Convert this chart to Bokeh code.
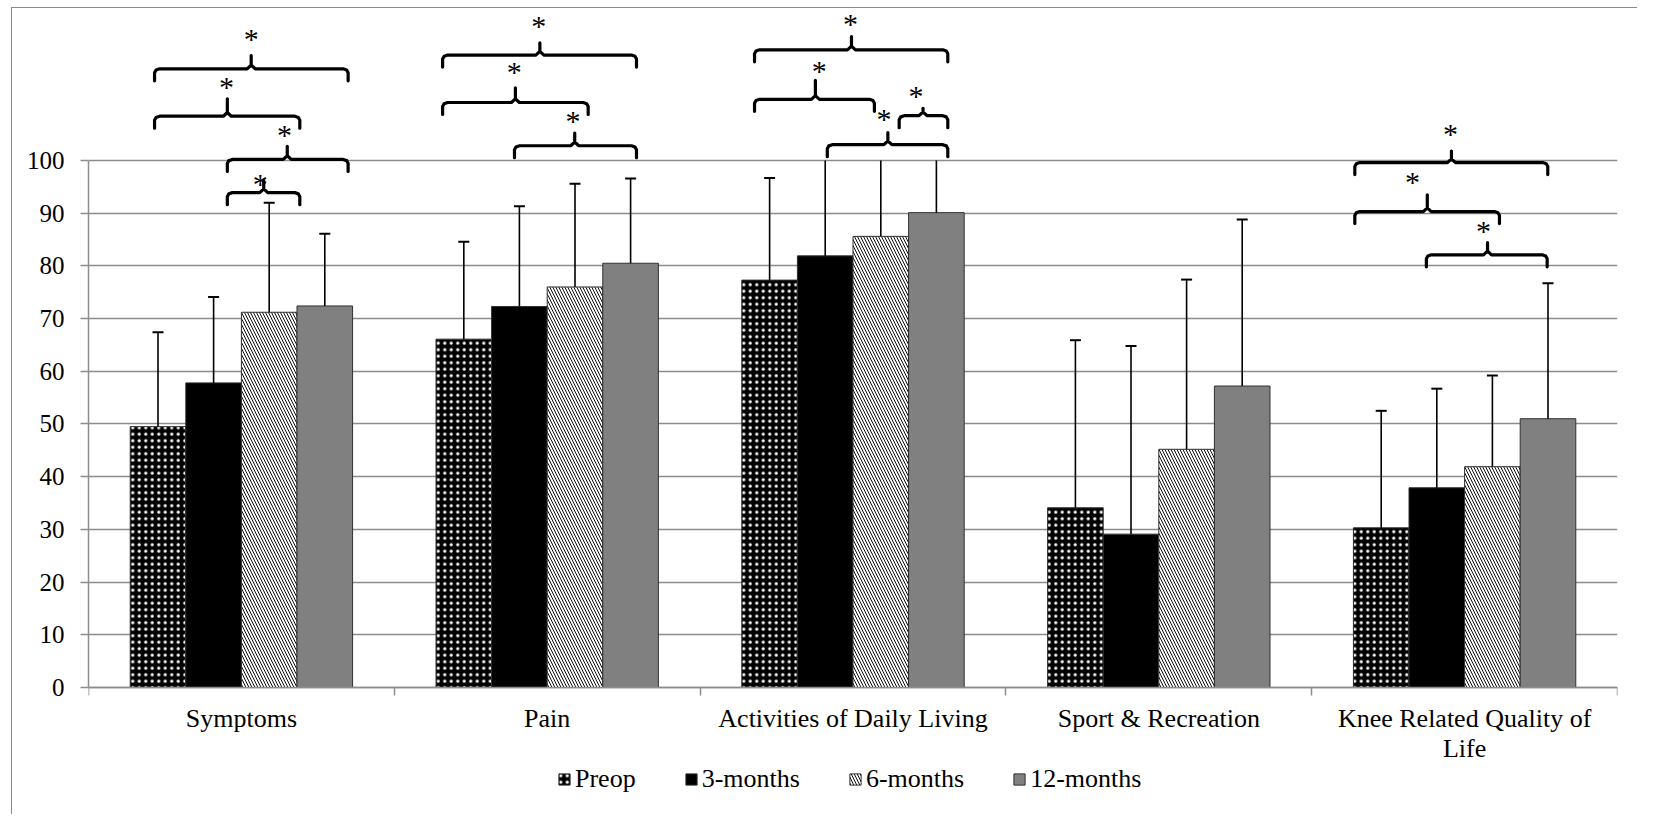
from bokeh.plotting import figure
from bokeh.models import FixedTicker, Legend, LegendItem, Range1d
from bokeh.embed import file_html
from bokeh.resources import INLINE
from bokeh.core.properties import value

# ---------------- data ----------------
categories = ["Symptoms", "Pain", "Activities of Daily Living",
              "Sport & Recreation", "Knee Related Quality of\nLife"]
series = ["Preop", "3-months", "6-months", "12-months"]

preop = [49.5, 66.1, 77.3, 34.1, 30.3]
m3 = [57.8, 72.3, 81.9, 29.1, 37.9]
m6 = [71.2, 76.0, 85.6, 45.2, 41.9]
m12 = [72.4, 80.5, 90.1, 57.2, 51.0]

# upper ends of the error bars (100 = runs past the axis maximum)
preop_hi = [67.4, 84.6, 96.7, 65.9, 52.5]
m3_hi = [74.1, 91.3, 100.0, 64.8, 56.7]
m6_hi = [92.0, 95.6, 100.0, 77.4, 59.2]
m12_hi = [86.1, 96.6, 100.0, 88.8, 76.7]

y_ticks = [0, 10, 20, 30, 40, 50, 60, 70, 80, 90, 100]

# significance brackets: left end, right end, tip, level, tip height
br_x0 = [-0.284, -0.284, -0.046, -0.046, 0.658, 0.658, 0.893,
         1.678, 1.678, 2.151, 1.916, 3.641, 3.641, 3.875]
br_x1 = [0.349, 0.191, 0.349, 0.191, 1.292, 1.134, 1.292,
         2.310, 2.070, 2.310, 2.310, 4.272, 4.114, 4.270]
br_xm = [0.032, -0.046, 0.150, 0.073, 0.976, 0.896, 1.090,
         1.995, 1.877, 2.229, 2.114, 3.957, 3.878, 4.075]
br_y = [117.4, 108.4, 100.2, 93.9, 120.0, 111.0, 102.8,
        121.0, 111.6, 108.5, 103.0, 99.6, 90.3, 82.1]
br_tip = [2.5, 3.3, 2.5, 2.3, 2.3, 2.8, 2.4, 2.5, 3.6, 1.4, 2.3, 2.2, 3.2, 2.3]
star_x = [0.032, -0.049, 0.141, 0.062, 0.972, 0.892, 1.084,
          1.992, 1.890, 2.206, 2.101, 3.954, 3.830, 4.062]
star_y = [123.1, 114.0, 104.9, 95.7, 125.7, 116.8, 107.6,
          125.9, 117.0, 112.3, 107.9, 105.1, 96.0, 86.8]

# ---------------- styling ----------------
FONT = "Liberation Serif"
GRAY = "#8c8c8c"
FRAME_W, FRAME_H = 1529, 790
Y_MAX = 127.7
px_per_unit = 673 / Y_MAX          # 0..Y_MAX spans 673 px
Y_MIN = Y_MAX - FRAME_H / px_per_unit   # room below zero for labels and legend
px_per_x = FRAME_W / len(categories)

bar_w = 0.1818
offsets = [(j - 1.5) * bar_w for j in range(len(series))]

p = figure(frame_width=FRAME_W, frame_height=FRAME_H,
           x_range=Range1d(-0.5, len(categories) - 0.5),
           y_range=Range1d(Y_MIN, Y_MAX),
           output_backend="svg", toolbar_location=None,
           min_border_left=76, min_border_right=20,
           min_border_top=6, min_border_bottom=10)
p.styles = {"border-left": "1.5px solid #8c8c8c", "border-top": "1.5px solid #8c8c8c",
            "margin-left": "11px", "margin-top": "7px"}
p.outline_line_color = None
p.background_fill_color = "white"
p.border_fill_color = "white"

# y axis
p.yaxis.ticker = FixedTicker(ticks=y_ticks)
p.yaxis.bounds = (0, 100)
p.yaxis.axis_line_color = GRAY
p.yaxis.axis_line_width = 1.5
p.yaxis.major_tick_line_color = GRAY
p.yaxis.major_tick_line_width = 1.5
p.yaxis.major_tick_out = 8
p.yaxis.major_tick_in = 0
p.yaxis.minor_tick_line_color = None
p.yaxis.major_label_text_font = FONT
p.yaxis.major_label_text_font_size = "25px"
p.yaxis.major_label_text_color = "black"
p.yaxis.major_label_standoff = 16

# x axis at y = 0: labels at category centres, tick marks at category boundaries
centers = list(range(len(categories)))
bounds_ticks = [i - 0.5 for i in range(len(categories) + 1)]
p.xaxis.fixed_location = 0
p.xaxis.ticker = FixedTicker(ticks=centers, minor_ticks=bounds_ticks)
p.xaxis.major_label_overrides = {i: c for i, c in zip(centers, categories)}
p.xaxis.axis_line_color = GRAY
p.xaxis.axis_line_width = 1.5
p.xaxis.major_tick_line_color = None
p.xaxis.major_tick_out = 0
p.xaxis.major_tick_in = 0
p.xaxis.minor_tick_line_color = GRAY
p.xaxis.minor_tick_line_width = 1.5
p.xaxis.minor_tick_out = 8
p.xaxis.minor_tick_in = 0
p.xaxis.major_label_text_font = FONT
p.xaxis.major_label_text_font_size = "26px"
p.xaxis.major_label_text_color = "black"
p.xaxis.major_label_text_line_height = 1.06
p.xaxis.major_label_standoff = 8

p.xgrid.visible = False
p.ygrid.ticker = FixedTicker(ticks=y_ticks)
p.ygrid.grid_line_color = GRAY
p.ygrid.grid_line_width = 1.5

# bars
values = [preop, m3, m6, m12]
uppers = [preop_hi, m3_hi, m6_hi, m12_hi]
bar_styles = [
    dict(fill_color="black", hatch_pattern="dot", hatch_color="white",
         hatch_scale=6.5, hatch_weight=1.0),
    dict(fill_color="black"),
    dict(fill_color="white", hatch_pattern="left_diagonal_line", hatch_color="black",
         hatch_scale=6, hatch_weight=0.95),
    dict(fill_color="#808080"),
]
renderers = []
for j, (vals, st) in enumerate(zip(values, bar_styles)):
    xs = [i + offsets[j] for i in range(len(categories))]
    r = p.vbar(x=xs, top=vals, bottom=0, width=bar_w,
               line_color="#303030", line_width=1, **st)
    renderers.append(r)

# error bars (clipped at the axis maximum, as in the original)
stem_x, stem_y0, stem_y1 = [], [], []
cap_x0, cap_x1, cap_y = [], [], []
cap_half = 5.5 / px_per_x
for j, (vals, his) in enumerate(zip(values, uppers)):
    for i in range(len(categories)):
        x = i + offsets[j]
        top = min(his[i], 100)
        stem_x.append(x)
        stem_y0.append(vals[i])
        stem_y1.append(top)
        if his[i] < 100:
            cap_x0.append(x - cap_half)
            cap_x1.append(x + cap_half)
            cap_y.append(his[i])
p.segment(x0=stem_x, y0=stem_y0, x1=stem_x, y1=stem_y1,
          line_color="black", line_width=1.6)
p.segment(x0=cap_x0, y0=cap_y, x1=cap_x1, y1=cap_y,
          line_color="black", line_width=2)

# significance brackets
drop = 12 / px_per_unit
r_y = 4 / px_per_unit
cx = 5 / px_per_x
tx = 4 / px_per_x
bxs, bys = [], []
for x0, x1, xm, y, t in zip(br_x0, br_x1, br_xm, br_y, br_tip):
    bxs.append([x0, x0, x0 + cx * 0.3, x0 + cx, xm - tx, xm, xm, xm, xm + tx,
                x1 - cx, x1 - cx * 0.3, x1, x1])
    bys.append([y - drop, y - r_y, y - r_y * 0.3, y, y, y + 0.7, y + t, y + 0.7, y,
                y, y - r_y * 0.3, y - r_y, y - drop])
p.multi_line(xs=bxs, ys=bys, line_color="black", line_width=3.2,
             line_join="round", line_cap="round")

STAR_PX = 30
p.text(x=star_x, y=star_y, text=["*"] * len(star_x),
       text_font=value(FONT), text_font_size=f"{STAR_PX}px", text_color="black",
       text_align="center", text_baseline="alphabetic")

# legend under the category labels (screen offsets from the frame's bottom-left)
legend = Legend(items=[LegendItem(label=s, renderers=[r]) for s, r in zip(series, renderers)],
                orientation="horizontal", location=(469, 10),
                label_text_font=FONT, label_text_font_size="26px",
                label_text_color="black",
                glyph_width=14, glyph_height=14, label_standoff=4, spacing=48,
                label_height=30, padding=0, margin=0, border_line_color=None,
                background_fill_alpha=0)
p.add_layout(legend, "center")

open("out.html", "w").write(file_html(p, INLINE))
